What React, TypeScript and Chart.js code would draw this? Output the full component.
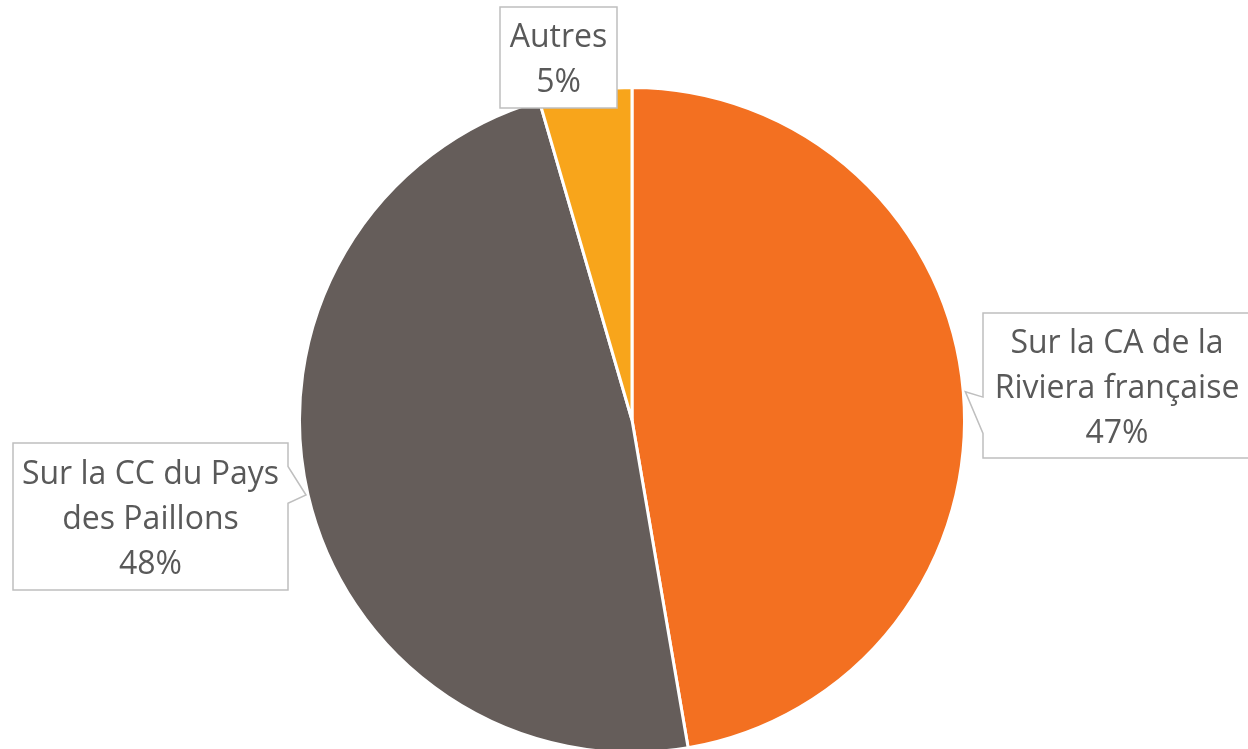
import React, { useEffect, useRef } from "react";
import { Chart, registerables } from "chart.js";

Chart.register(...registerables);

const categories = ["Sur la CA de la|Riviera française", "Sur la CC du Pays|des Paillons", "Autres"];
const values = [47.3, 48.2, 4.5];
const colors = ["#F37021", "#655D5A", "#F8A51B"];

// label box layout (annotation placement, not data)
const labelBoxes = [
  { x: 983, y: 313, w: 268, h: 145, side: "left", base: [0.58, 0.83] },
  { x: 13, y: 443, w: 275, h: 147, side: "right", base: [0.16, 0.41] },
  { x: 500, y: 7, w: 117, h: 101, side: null, base: [0, 0] },
];

const FONT = "32px 'Open Sans', sans-serif";
const LINE_H = 45;

const calloutPlugin = {
  id: "callouts",
  afterDraw(chart: any) {
    const ctx = chart.ctx as CanvasRenderingContext2D;
    const meta = chart.getDatasetMeta(0);
    const total = values.reduce((a, b) => a + b, 0);
    meta.data.forEach((arc: any, i: number) => {
      const p = arc.getProps(["x", "y", "startAngle", "endAngle", "outerRadius"], true);
      const mid = (p.startAngle + p.endAngle) / 2;
      const tipX = p.x + Math.cos(mid) * (p.outerRadius + 2);
      const tipY = p.y + Math.sin(mid) * (p.outerRadius + 2);
      const b = labelBoxes[i];
      ctx.save();
      ctx.beginPath();
      const { x, y, w, h } = b;
      if (b.side === "left") {
        ctx.moveTo(x, y);
        ctx.lineTo(x + w, y);
        ctx.lineTo(x + w, y + h);
        ctx.lineTo(x, y + h);
        ctx.lineTo(x, y + h * b.base[1]);
        ctx.lineTo(tipX, tipY);
        ctx.lineTo(x, y + h * b.base[0]);
        ctx.closePath();
      } else if (b.side === "right") {
        ctx.moveTo(x, y);
        ctx.lineTo(x + w, y);
        ctx.lineTo(x + w, y + h * b.base[0]);
        ctx.lineTo(tipX, tipY);
        ctx.lineTo(x + w, y + h * b.base[1]);
        ctx.lineTo(x + w, y + h);
        ctx.lineTo(x, y + h);
        ctx.closePath();
      } else {
        ctx.rect(x, y, w, h);
      }
      ctx.fillStyle = "#FFFFFF";
      ctx.fill();
      ctx.lineWidth = 1.5;
      ctx.strokeStyle = "#BFBFBF";
      ctx.stroke();
      const lines = categories[i].split("|");
      lines.push(Math.round((values[i] / total) * 100) + "%");
      ctx.fillStyle = "#595959";
      ctx.font = FONT;
      ctx.textAlign = "center";
      ctx.textBaseline = "middle";
      const cx = x + w / 2;
      const startY = y + h / 2 + 3 - ((lines.length - 1) * LINE_H) / 2;
      lines.forEach((ln, k) => ctx.fillText(ln, cx, startY + k * LINE_H));
      ctx.restore();
    });
  },
};

export default function App() {
  const ref = useRef<HTMLCanvasElement>(null);
  useEffect(() => {
    document.body.style.margin = "0";
    const chart = new Chart(ref.current!, {
      type: "pie",
      data: {
        labels: categories.map((c) => c.replace("|", " ")),
        datasets: [
          {
            data: values,
            backgroundColor: colors,
            borderColor: "#FFFFFF",
            borderWidth: 3,
          },
        ],
      },
      options: {
        animation: false,
        responsive: false,
        layout: { padding: { left: 297, right: 281, top: 86, bottom: 0 } },
        plugins: { legend: { display: false }, tooltip: { enabled: false } },
      },
      plugins: [calloutPlugin],
    });
    return () => chart.destroy();
  }, []);
  return (
    <div style={{ width: 1248, height: 749, overflow: "hidden", background: "#fff" }}>
      <canvas ref={ref} width={1248} height={754} style={{ display: "block" }} />
    </div>
  );
}
